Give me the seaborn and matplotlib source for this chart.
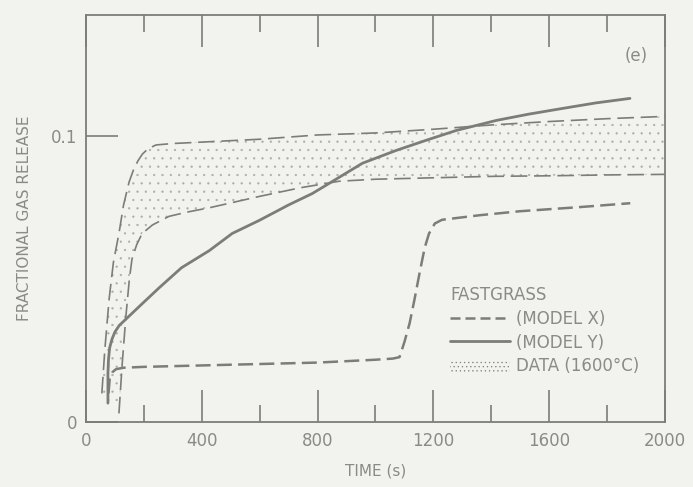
import numpy as np
import pandas as pd
import matplotlib
matplotlib.use("Agg")
import matplotlib.pyplot as plt
import seaborn as sns
from matplotlib.lines import Line2D
from matplotlib.patches import Patch

# ---- data ----
data_upper_t = [55, 65, 80, 95, 114, 130, 149, 165, 180, 195, 215, 242, 300, 400,
                600, 800, 1000, 1200, 1400, 1600, 1800, 2000]
data_upper_f = [0.010, 0.025, 0.043, 0.056, 0.066, 0.076, 0.084, 0.0885, 0.0915,
                0.0938, 0.0957, 0.097, 0.0975, 0.098, 0.099, 0.1005, 0.1012,
                0.1025, 0.104, 0.1052, 0.1062, 0.107]

data_lower_t = [114, 125, 138, 150, 159, 175, 194, 230, 287, 350, 426, 600, 740,
                875, 1000, 1200, 1400, 1600, 1800, 2000]
data_lower_f = [0.003, 0.020, 0.037, 0.050, 0.057, 0.062, 0.066, 0.069, 0.072,
                0.0735, 0.075, 0.079, 0.082, 0.0843, 0.085, 0.0855, 0.086,
                0.0862, 0.0865, 0.0867]

model_y_t = [76, 76, 78, 82, 90, 100, 115, 138, 190, 253, 330, 426, 505, 599,
             700, 782, 841, 955, 1072, 1180, 1280, 1418, 1530, 1647, 1760, 1879]
model_y_f = [0.0066, 0.017, 0.022, 0.026, 0.029, 0.0315, 0.0338, 0.036, 0.041,
             0.047, 0.054, 0.060, 0.066, 0.0706, 0.076, 0.080, 0.0836, 0.0906,
             0.0951, 0.0988, 0.1021, 0.1056, 0.1078, 0.1098, 0.1117, 0.1133]

model_x_t = [78, 82, 92, 104, 130, 200, 400, 600, 800, 1000, 1060, 1083, 1100,
             1118, 1135, 1152, 1170, 1185, 1205, 1230, 1360, 1500, 1700, 1880]
model_x_f = [0.010, 0.015, 0.0175, 0.0185, 0.019, 0.0193, 0.0198, 0.0203,
             0.0208, 0.0218, 0.0222, 0.0227, 0.028, 0.0346, 0.043, 0.052,
             0.061, 0.066, 0.0695, 0.0708, 0.0724, 0.0738, 0.0752, 0.0766]

x_ticks_major = [0, 400, 800, 1200, 1600, 2000]
x_ticks_minor = [200, 600, 1000, 1400, 1800]
y_ticks = [0, 0.1]
y_tick_labels = ["0", "0.1"]

# ---- style ----
BG = "#f2f2ef"
INK = "#8a8a88"
LINE = "#7c7c7a"
DOT = "#acacaa"

sns.set_style("white")
plt.rcParams["font.family"] = ["DejaVu Sans"]
plt.rcParams["hatch.linewidth"] = 0.4

fig = plt.figure(figsize=(6.93, 4.87), dpi=100, facecolor=BG)
ax = fig.add_axes([0.124, 0.1335, 0.8356, 0.8357])
ax.set_facecolor(BG)

# data band (stippled)
poly_x = np.r_[data_upper_t, data_lower_t[::-1]]
poly_y = np.r_[data_upper_f, data_lower_f[::-1]]
ax.fill(poly_x, poly_y, facecolor="none", edgecolor=DOT, linewidth=0, hatch="..")

df_up = pd.DataFrame({"t": data_upper_t, "f": data_upper_f})
df_lo = pd.DataFrame({"t": data_lower_t, "f": data_lower_f})
df_y = pd.DataFrame({"t": model_y_t, "f": model_y_f})
df_x = pd.DataFrame({"t": model_x_t, "f": model_x_f})

for d in (df_up, df_lo):
    sns.lineplot(data=d, x="t", y="f", ax=ax, estimator=None, sort=False,
                 color=LINE, linewidth=1.2)
    ax.lines[-1].set_dashes([10, 4])

sns.lineplot(data=df_y, x="t", y="f", ax=ax, estimator=None, sort=False,
             color=LINE, linewidth=2.0)
sns.lineplot(data=df_x, x="t", y="f", ax=ax, estimator=None, sort=False,
             color=LINE, linewidth=1.8)
ax.lines[-1].set_dashes([6, 2.5])

ax.set_xlim(0, 2000)
ax.set_ylim(0, 0.1425)

for s in ax.spines.values():
    s.set_color(LINE)
    s.set_linewidth(1.3)

ax.set_xticks(x_ticks_major)
ax.set_xticks(x_ticks_minor, minor=True)
ax.set_xticklabels([str(v) for v in x_ticks_major])
ax.set_yticks(y_ticks)
ax.set_yticklabels(y_tick_labels)
ax.tick_params(axis="x", which="major", direction="in", length=23, width=1.2,
               color=LINE, top=True, bottom=True, labelsize=12, labelcolor=INK, pad=7)
ax.tick_params(axis="x", which="minor", direction="in", length=12, width=1.2,
               color=LINE, top=True, bottom=True)
ax.tick_params(axis="y", which="major", direction="in", length=23, width=1.2,
               color=LINE, left=True, right=False, labelsize=12, labelcolor=INK, pad=6)

ax.set_xlabel("TIME (s)", fontsize=11, color=INK, labelpad=10)
ax.set_ylabel("FRACTIONAL GAS RELEASE", fontsize=11, color=INK, labelpad=14)

ax.text(0.97, 0.90, "(e)", transform=ax.transAxes, fontsize=12, color=INK,
        ha="right", va="center")

handles = [
    Line2D([], [], color=LINE, linewidth=1.8, dashes=[4, 2]),
    Line2D([], [], color=LINE, linewidth=2.0),
    Patch(facecolor="none", edgecolor=LINE, linewidth=0, hatch="...."),
]
leg = ax.legend(handles, ["(MODEL X)", "(MODEL Y)", "DATA (1600°C)"],
                title="FASTGRASS", loc="upper left",
                bbox_to_anchor=(0.615, 0.355), frameon=False,
                fontsize=12, title_fontsize=12, handlelength=3.6,
                handletextpad=0.35, labelspacing=0.35, borderpad=0,
                alignment="left", handleheight=0.8)
for t in leg.get_texts():
    t.set_color(INK)
leg.get_title().set_color(INK)

fig.savefig("out.png", dpi=100, facecolor=BG)
